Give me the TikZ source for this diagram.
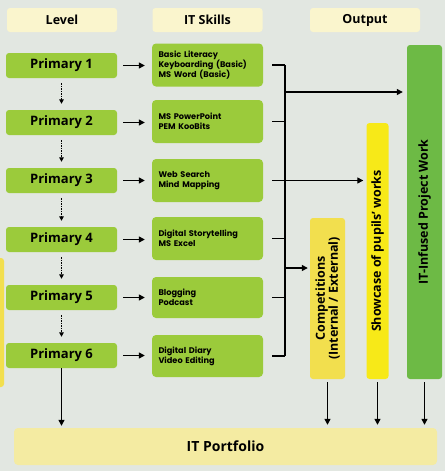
\documentclass[tikz,border=0pt]{standalone}
\usepackage{fontspec}
\setmainfont{Open Sans}
\newfontfamily\skillfont{Poppins}
\usetikzlibrary{arrows.meta}
\definecolor{bgc}{HTML}{E2E7E1}
\definecolor{lgreen}{HTML}{9BCB3B}
\definecolor{dgreen}{HTML}{6DBA45}
\definecolor{cyellow}{HTML}{F2DF4E}
\definecolor{syellow}{HTML}{F7E918}
\definecolor{pyellow}{HTML}{F4EBA2}
\definecolor{cream}{HTML}{FAF5CD}
\tikzset{
  hdr/.style={fill=cream, rounded corners=3pt, minimum width=110pt, minimum height=24pt, inner sep=0pt, font=\bfseries\fontsize{12.5}{14}\selectfont},
  lvl/.style={fill=lgreen, rounded corners=3pt, minimum width=111pt, minimum height=25pt, inner sep=0pt, font=\bfseries\fontsize{13}{15}\selectfont},
  skill/.style={fill=lgreen, rounded corners=4pt, minimum width=111pt, minimum height=43pt, inner sep=0pt, text width=98pt, align=left, font=\skillfont\bfseries\fontsize{8.2}{10}\selectfont},
  vbox/.style={rounded corners=3pt, rotate=90, inner sep=0pt, align=center, font=\bfseries\fontsize{12.5}{13}\selectfont},
  arr/.style={draw=black, line width=1.3pt, -{Triangle[length=6pt,width=6pt]}},
  darr/.style={draw=black, line width=1pt, dash pattern=on 1.5pt off 1pt, -{Triangle[length=4.5pt,width=4.5pt]}},
  bus/.style={draw=black, line width=1.3pt},
}
\begin{document}
\begin{tikzpicture}[x=1pt,y=-1pt]
\fill[bgc] (0,0) rectangle (445,471);
\useasboundingbox (0,0) rectangle (445,471);
\fill[cyellow, rounded corners=3pt] (-6,258) rectangle (4,387);

\node[hdr] (hl) at (62,20) {Level};
\node[hdr] (hs) at (207.5,20) {IT Skills};
\node[hdr] (ho) at (365,20) {Output};

\node[lvl] (p1) at (61.5,65.5) {Primary 1};
\node[lvl] (p2) at (61.5,122.5) {Primary 2};
\node[lvl] (p3) at (61.5,180.5) {Primary 3};
\node[lvl] (p4) at (61.5,239.5) {Primary 4};
\node[lvl] (p5) at (61.5,297.5) {Primary 5};
\node[lvl] (p6) at (61.5,355.5) {Primary 6};

\node[skill] (s1) at (207.5,65) {Basic Literacy\\Keyboarding (Basic)\\MS Word (Basic)};
\node[skill] (s2) at (207.5,121.5) {MS PowerPoint\\PEM KooBits\\[10pt]};
\node[skill] (s3) at (207.5,180.5) {Web Search\\Mind Mapping\\[6pt]};
\node[skill] (s4) at (207.5,238.5) {Digital Storytelling\\MS Excel\\[6pt]};
\node[skill, minimum height=41pt] (s5) at (207.5,297.5) {Blogging\\Podcast\\[6pt]};
\node[skill, minimum height=42pt] (s6) at (207.5,356) {Digital Diary\\Video Editing\\[4pt]};

\node[vbox, fill=cyellow, minimum width=161pt, minimum height=35pt] (comp) at (327.5,298.5) {Competitions\\(Internal / External)};
\node[vbox, fill=syellow, minimum width=256pt, minimum height=22pt] (show) at (377.5,251) {Showcase of pupils' works};
\node[vbox, fill=dgreen, minimum width=334pt, minimum height=35pt] (ipw) at (424.5,212) {IT-Infused Project Work};

\node[fill=pyellow, rounded corners=4pt, minimum width=423pt, minimum height=37pt, inner sep=0pt, font=\bfseries\fontsize{14}{16}\selectfont] (port) at (225.5,446.5) {IT Portfolio};

% level -> skills
\foreach \i in {1,...,6}{
  \draw[arr, shorten <=6pt, shorten >=7pt] (p\i.east) -- (p\i.east -| s\i.west);
}
% dashed level progression
\foreach \i/\j in {1/2,2/3,3/4,4/5,5/6}{
  \draw[darr, shorten <=5pt, shorten >=6pt] (p\i.south) -- (p\j.north);
}
% bus
\coordinate (bt) at (285,65);
\coordinate (bb) at (285,356);
\draw[bus] (bt) -- (bb);
\foreach \i in {1,...,6}{
  \draw[bus, shorten <=9pt] (s\i.east) -- (s\i.east -| bt);
}
\coordinate (b1) at (285,92);
\coordinate (b3) at (285,268);
\draw[arr, shorten >=4pt] (b1) -- (b1 -| ipw.north);
\draw[arr, shorten <=9pt, shorten >=3pt] (s3.east) -- (s3.east -| show.north);
\draw[arr, shorten >=2pt] (b3) -- (b3 -| comp.north);

% outputs -> portfolio
\draw[arr, shorten <=3pt, shorten >=3pt] (comp.west) -- (comp.west |- port.north);
\draw[arr, shorten <=3pt, shorten >=3pt] (show.west) -- (show.west |- port.north);
\draw[arr, shorten <=3pt, shorten >=3pt] (ipw.west) -- (ipw.west |- port.north);
\draw[arr, shorten >=2pt] (p6.south) -- (p6.south |- port.north);
\end{tikzpicture}
\end{document}
